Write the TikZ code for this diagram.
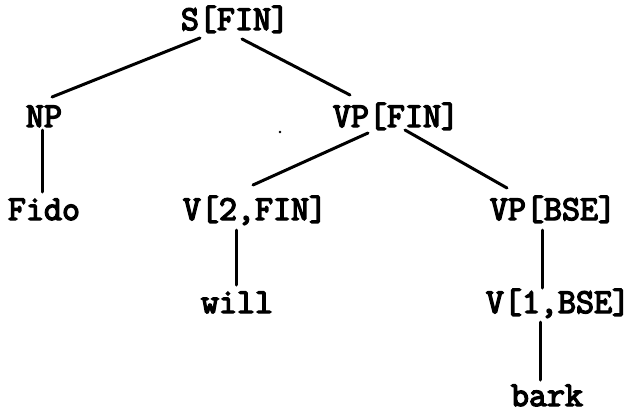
\documentclass[tikz,border=0pt]{standalone}
\usepackage{fontspec}
\newfontfamily\treefont[FakeBold=4]{Latin Modern Mono}
\begin{document}
\begin{tikzpicture}[x=1pt,y=1pt,
  lbl/.style={font=\treefont\fontsize{35}{35}\selectfont, inner sep=0pt, anchor=base},
  branch/.style={line width=3pt, line cap=round}]
\useasboundingbox (0,0) rectangle (635,-413);
\node[lbl] (s) at (235,-30) {S[FIN]};
\node[lbl] (np) at (44,-127) {NP};
\node[lbl] (vp) at (396,-127) {VP[FIN]};
\node[lbl] (fido) at (44,-220) {Fido};
\node[lbl] (v2) at (255,-220) {V[2,FIN]};
\node[lbl] (vpb) at (553,-220) {VP[BSE]};
\node[lbl] (will) at (237,-313) {will};
\node[lbl] (v1) at (558,-313) {V[1,BSE]};
\node[lbl] (bark) at (547,-406) {bark};
\draw[branch] ([shift={(-35,-8)}]s.base) -- ([shift={(8,30)}]np.base);
\draw[branch] ([shift={(7,-9)}]s.base) -- ([shift={(-46,32)}]vp.base);
\draw[branch] ([shift={(-2,-3)}]np.base) -- ([shift={(-2,28)}]fido.base);
\draw[branch] ([shift={(-28,-6)}]vp.base) -- ([shift={(-2,35)}]v2.base);
\draw[branch] ([shift={(9,-3)}]vp.base) -- ([shift={(-46,32)}]vpb.base);
\draw[branch] ([shift={(-19,-10)}]v2.base) -- ([shift={(-1,28)}]will.base);
\draw[branch] ([shift={(-11,-10)}]vpb.base) -- ([shift={(-16,25)}]v1.base);
\draw[branch] ([shift={(-18,-9)}]v1.base) -- ([shift={(-7,26)}]bark.base);
\fill (280,-132) circle (1.3);
\end{tikzpicture}
\end{document}
